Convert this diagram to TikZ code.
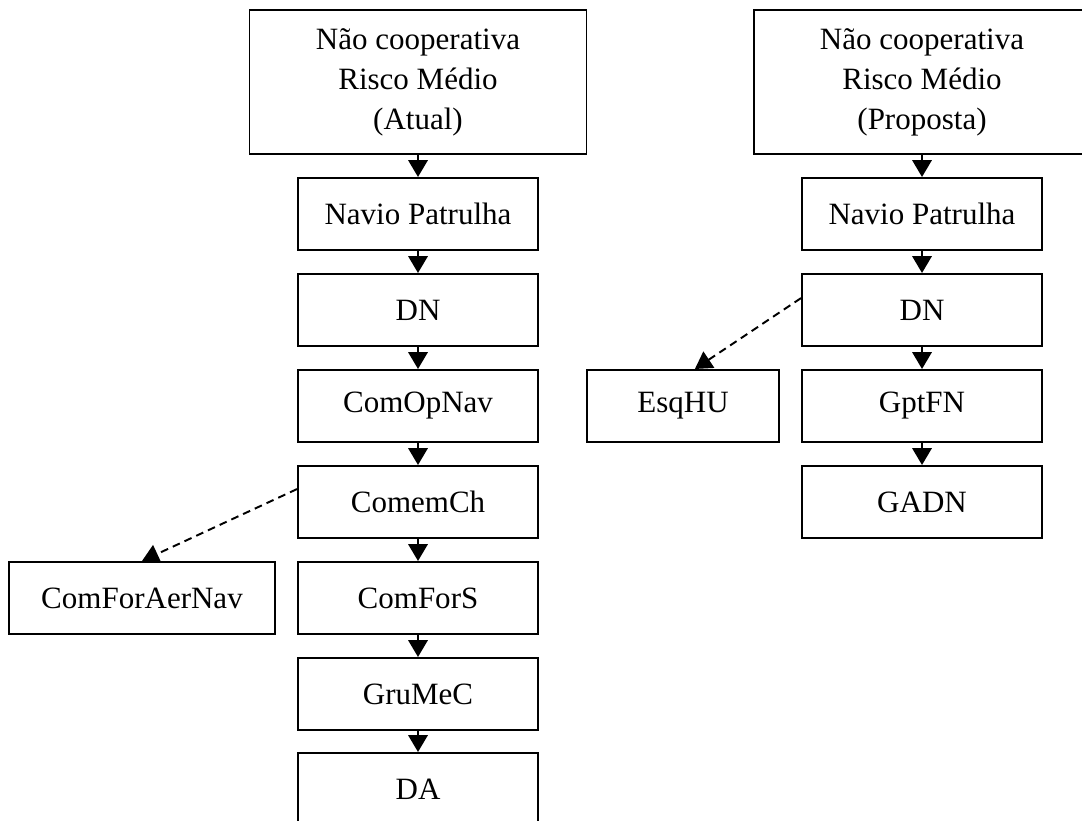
\documentclass[tikz,border=0pt]{standalone}
\usepackage{fontspec}
\setmainfont{Liberation Serif}
\usetikzlibrary{arrows.meta}
\tikzset{
  caixa/.style={draw,line width=0.75pt,minimum width=92.9pt,minimum height=27.9pt,inner sep=0pt,align=center,font=\fontsize{12}{15.5}\selectfont},
  topo/.style={caixa,minimum width=130.4pt,minimum height=55.7pt},
  seta/.style={-{Triangle[length=6.5pt,width=7.5pt]},line width=0.75pt},
  tracejado/.style={seta,dash pattern=on 3pt off 2pt}
}
\begin{document}
\begin{tikzpicture}[x=0.387pt,y=-0.387pt]
\useasboundingbox (0,0) rectangle (1082,821);
% atual
\node[topo] (topA) at (418,82) {Não cooperativa\\Risco Médio\\(Atual)};
\node[caixa] (navA) at (418,214) {Navio Patrulha};
\node[caixa] (dnA) at (418,310) {DN};
\node[caixa] (comopnav) at (418,406) {ComOpNav};
\node[caixa] (comemch) at (418,502) {ComemCh};
\node[caixa] (comfors) at (418,598) {ComForS};
\node[caixa,minimum width=102.6pt] (comforaernav) at (142,598) {ComForAerNav};
\node[caixa] (grumec) at (418,694) {GruMeC};
\node[caixa] (da) at (418,789) {DA};
\draw[seta] (topA) -- (navA);
\draw[seta] (navA) -- (dnA);
\draw[seta] (dnA) -- (comopnav);
\draw[seta] (comopnav) -- (comemch);
\draw[seta] (comemch) -- (comfors);
\draw[seta] (comfors) -- (grumec);
\draw[seta] (grumec) -- (da);
\draw[tracejado] ([yshift=5pt]comemch.west) -- (comforaernav.north);
% proposta
\node[topo] (topB) at (922,82) {Não cooperativa\\Risco Médio\\(Proposta)};
\node[caixa] (navB) at (922,214) {Navio Patrulha};
\node[caixa] (dnB) at (922,310) {DN};
\node[caixa,minimum width=74.3pt] (esqhu) at (683,406) {EsqHU};
\node[caixa] (gptfn) at (922,406) {GptFN};
\node[caixa] (gadn) at (922,502) {GADN};
\draw[seta] (topB) -- (navB);
\draw[seta] (navB) -- (dnB);
\draw[seta] (dnB) -- (gptfn);
\draw[seta] (gptfn) -- (gadn);
\draw[tracejado] ([yshift=4.6pt]dnB.west) -- ([xshift=4.6pt]esqhu.north);
\end{tikzpicture}
\end{document}
